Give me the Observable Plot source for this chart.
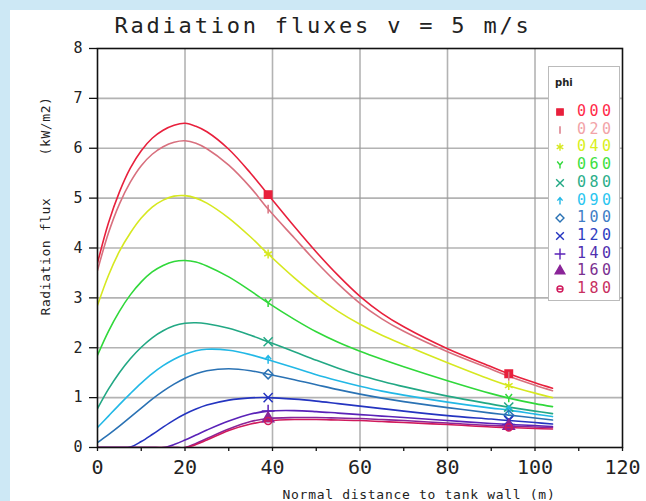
<!DOCTYPE html>
<html>
<head>
<meta charset="utf-8">
<script src="https://cdn.jsdelivr.net/npm/d3@7"></script>
<script src="https://cdn.jsdelivr.net/npm/@observablehq/plot@0.6"></script>
<style>
  html, body { margin: 0; padding: 0; }
  body { width: 646px; height: 501px; overflow: hidden; position: relative; background: #cde8f5; font-family: "DejaVu Sans Mono", monospace; }
  #panel { position: absolute; left: 10px; top: 10px; width: 636px; height: 491px; background: #ffffff; }
  #title { position: absolute; left: 0; top: 13px; width: 646px; text-align: center; font-size: 22px; letter-spacing: 2.8px; color: #222; white-space: pre; }
  #chart { position: absolute; left: 10px; top: 40px; }
  #ylab { position: absolute; left: 45px; top: 206px; transform: translate(-50%, -50%) rotate(-90deg); font-size: 13px; letter-spacing: 0.6px; color: #222; white-space: pre; }
  #xlab { position: absolute; left: 419px; top: 494px; transform: translate(-50%, -50%); font-size: 13px; letter-spacing: 0.7px; color: #222; white-space: pre; }
  #legend { position: absolute; left: 548px; top: 66px; width: 72px; height: 235px; background: #fff; border: 1px solid #bbb; box-sizing: border-box; }
  #legend .hdr { position: absolute; left: 6px; top: 10px; font-family: "DejaVu Sans", sans-serif; font-size: 10px; font-weight: bold; color: #222; }
  #legend .row { position: absolute; left: 0; height: 16px; width: 72px; }
  #legend .row svg { position: absolute; left: 2px; top: 0; }
  #legend .row span { position: absolute; left: 28px; top: -1px; font-size: 15px; letter-spacing: 3.5px; line-height: 16px; }
</style>
</head>
<body>
<div id="panel"></div>
<div id="title">Radiation fluxes v = 5 m/s</div>
<div id="chart"></div>
<div id="ylab">Radiation flux     (kW/m2)</div>
<div id="xlab">Normal distance to tank wall (m)</div>
<div id="legend"><div class="hdr">phi</div></div>
<script>
// ---- data ----
const distance = [0, 2.5, 5, 7.5, 10, 12.5, 15, 17.5, 20, 22.5, 25, 30, 35, 39, 45, 50, 55, 60, 65, 70, 80, 90, 94, 100, 104];
const phi = ["000", "020", "040", "060", "080", "090", "100", "120", "140", "160", "180"];
const flux000 = [3.7, 4.5, 5.12, 5.6, 5.95, 6.2, 6.36, 6.46, 6.5, 6.44, 6.33, 5.98, 5.5, 5.07, 4.43, 3.92, 3.45, 3.03, 2.69, 2.42, 1.98, 1.62, 1.48, 1.3, 1.19];
const flux020 = [3.55, 4.3, 4.88, 5.32, 5.65, 5.88, 6.03, 6.12, 6.15, 6.1, 5.99, 5.66, 5.21, 4.78, 4.2, 3.72, 3.28, 2.89, 2.58, 2.33, 1.92, 1.57, 1.43, 1.25, 1.14];
const flux040 = [2.85, 3.45, 3.93, 4.3, 4.6, 4.82, 4.96, 5.04, 5.05, 5.0, 4.9, 4.6, 4.22, 3.88, 3.4, 3.04, 2.73, 2.47, 2.25, 2.06, 1.7, 1.36, 1.24, 1.09, 1.0];
const flux060 = [1.85, 2.33, 2.73, 3.06, 3.32, 3.52, 3.65, 3.73, 3.75, 3.72, 3.64, 3.42, 3.14, 2.9, 2.57, 2.32, 2.11, 1.93, 1.77, 1.62, 1.34, 1.08, 0.99, 0.88, 0.82];
const flux080 = [0.78, 1.17, 1.5, 1.78, 2.01, 2.2, 2.34, 2.44, 2.49, 2.5, 2.48, 2.39, 2.25, 2.12, 1.92, 1.75, 1.59, 1.45, 1.33, 1.22, 1.03, 0.87, 0.81, 0.73, 0.68];
const flux090 = [0.4, 0.63, 0.86, 1.08, 1.29, 1.48, 1.64, 1.77, 1.87, 1.94, 1.97, 1.95, 1.86, 1.76, 1.6, 1.46, 1.34, 1.23, 1.13, 1.05, 0.91, 0.79, 0.75, 0.67, 0.62];
const flux100 = [0.1, 0.26, 0.43, 0.61, 0.79, 0.97, 1.13, 1.27, 1.39, 1.48, 1.54, 1.58, 1.54, 1.47, 1.36, 1.26, 1.16, 1.07, 0.99, 0.92, 0.8, 0.69, 0.65, 0.59, 0.55];
const flux120 = [0, 0, 0, 0.01, 0.12, 0.26, 0.41, 0.55, 0.67, 0.77, 0.85, 0.95, 0.995, 1.0, 0.97, 0.93, 0.88, 0.83, 0.78, 0.73, 0.64, 0.57, 0.54, 0.5, 0.47];
const flux140 = [0, 0, 0, 0, 0, 0, 0, 0.06, 0.15, 0.25, 0.35, 0.53, 0.67, 0.73, 0.74, 0.72, 0.69, 0.66, 0.63, 0.6, 0.54, 0.48, 0.46, 0.44, 0.42];
const flux160 = [0, 0, 0, 0, 0, 0, 0, 0, 0, 0.08, 0.18, 0.37, 0.52, 0.58, 0.6, 0.6, 0.59, 0.58, 0.56, 0.54, 0.49, 0.44, 0.43, 0.41, 0.4];
const flux180 = [0, 0, 0, 0, 0, 0, 0, 0, 0, 0.06, 0.15, 0.34, 0.47, 0.53, 0.56, 0.56, 0.55, 0.54, 0.52, 0.5, 0.46, 0.41, 0.4, 0.38, 0.37];
const markerDistances = [39, 94];
const xTicks = [0, 20, 40, 60, 80, 100, 120];
const xMinorTicks = [10, 30, 50, 70, 90, 110];
const yTicks = [0, 1, 2, 3, 4, 5, 6, 7, 8];

// ---- styles ----
const fluxes = [flux000, flux020, flux040, flux060, flux080, flux090, flux100, flux120, flux140, flux160, flux180];
const lineColors = ["#e8203c", "#d8707e", "#d6e820", "#30d83a", "#22a884", "#22b8e6", "#2a72b4", "#2434c0", "#5a22b8", "#8a2498", "#d01a5c"];
const labelColors = ["#ff2a48", "#f2a4a8", "#d8f020", "#3ee040", "#2cae8a", "#2cc6f0", "#3f7ec6", "#3040c2", "#5030b0", "#7a3090", "#c83060"];

const sz = (size) => Math.sqrt(size) / 2;
const tickSym = { draw(ctx, size) { const r = sz(size) * 1.2; ctx.moveTo(0, -r); ctx.lineTo(0, r); } };
const arrowSym = { draw(ctx, size) { const r = sz(size) * 1.1; ctx.moveTo(0, r); ctx.lineTo(0, -r); ctx.moveTo(-r * 0.75, -r * 0.1); ctx.lineTo(0, -r); ctx.lineTo(r * 0.75, -r * 0.1); } };
const ySym = { draw(ctx, size) { const r = sz(size) * 1.1; ctx.moveTo(0, r); ctx.lineTo(0, 0); ctx.lineTo(-r * 0.8, -r); ctx.moveTo(0, 0); ctx.lineTo(r * 0.8, -r); } };
const slashCircle = { draw(ctx, size) { const r = sz(size) * 0.95; ctx.moveTo(r, 0); ctx.arc(0, 0, r, 0, 2 * Math.PI); ctx.moveTo(-r, 0); ctx.lineTo(r, 0); } };
const symbols = ["square", tickSym, "asterisk", ySym, "times", arrowSym, "diamond2", "times", "plus", "triangle", slashCircle];
const d3Symbols = [d3.symbolSquare, tickSym, d3.symbolAsterisk, ySym, d3.symbolTimes, arrowSym, d3.symbolDiamond2, d3.symbolTimes, d3.symbolPlus, d3.symbolTriangle, slashCircle];
const filled = [true, false, false, false, false, false, false, false, false, true, false];

const rows = [];
phi.forEach((p, k) => fluxes[k].forEach((v, i) => rows.push({ phi: p, x: distance[i], v })));

const lineMarks = phi.map((p, k) => Plot.line(rows.filter(d => d.phi === p), {
  x: "x", y: "v", stroke: lineColors[k], strokeWidth: 1.6, curve: "catmull-rom", clip: true
}));
const dotMarks = phi.map((p, k) => Plot.dot(
  rows.filter(d => d.phi === p && markerDistances.includes(d.x)), {
  x: "x", y: "v", symbol: symbols[k], r: 4.2,
  fill: filled[k] ? lineColors[k] : "none",
  stroke: lineColors[k], strokeWidth: 1.5
}));

const chart = Plot.plot({
  width: 636, height: 461,
  marginLeft: 87, marginRight: 24, marginTop: 8, marginBottom: 54,
  x: { domain: [0, 120] },
  y: { domain: [0, 8] },
  style: { fontFamily: "DejaVu Sans Mono, monospace", background: "transparent", color: "#222", overflow: "visible" },
  marks: [
    Plot.gridX(xTicks.slice(1, -1), { stroke: "#9a9a9a", strokeOpacity: 0.75, strokeWidth: 1.6 }),
    Plot.gridY(yTicks.slice(1, -1), { stroke: "#9a9a9a", strokeOpacity: 0.75, strokeWidth: 1.6 }),
    ...lineMarks,
    ...dotMarks,
    Plot.frame({ stroke: "#111", strokeWidth: 1.6 }),
    Plot.axisY(yTicks, { tickSize: 8, tickPadding: 7, fontSize: 15, label: null, tickFormat: d => String(d), stroke: "#111", strokeWidth: 1.3 }),
    Plot.axisX(xTicks, { tickSize: 4, tickPadding: 8, fontSize: 20, label: null, tickFormat: d => String(d), stroke: "#111", strokeWidth: 1.3 }),
    Plot.axisX(xMinorTicks, { tickSize: 4, text: null, label: null, stroke: "#111", strokeWidth: 1.3 })
  ]
});
document.getElementById("chart").appendChild(chart);

// ---- legend ----
const legend = document.getElementById("legend");
phi.forEach((p, k) => {
  const row = document.createElement("div");
  row.className = "row";
  row.style.top = (37 + k * 17.7) + "px";
  const svg = d3.create("svg").attr("width", 20).attr("height", 16);
  svg.append("path")
    .attr("transform", "translate(9,8)")
    .attr("d", d3.symbol(d3Symbols[k], 40)())
    .attr("fill", filled[k] ? lineColors[k] : "none")
    .attr("stroke", lineColors[k])
    .attr("stroke-width", 1.4);
  row.appendChild(svg.node());
  const span = document.createElement("span");
  span.textContent = p;
  span.style.color = labelColors[k];
  row.appendChild(span);
  legend.appendChild(row);
});
</script>
</body>
</html>
